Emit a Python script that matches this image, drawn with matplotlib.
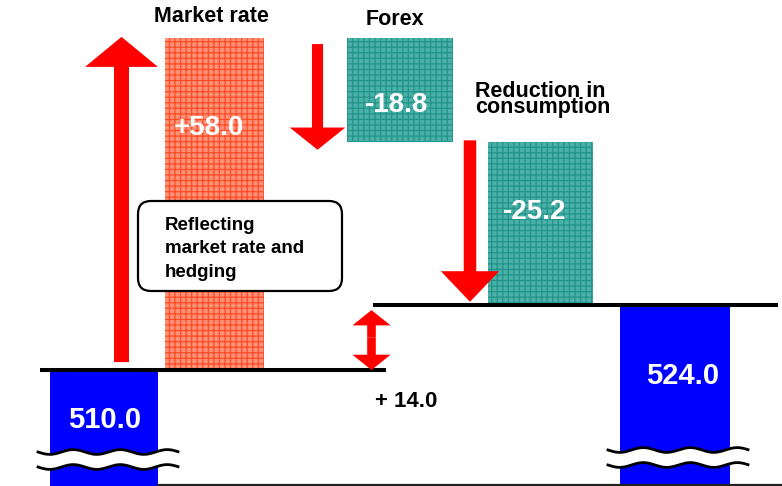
import numpy as np
import matplotlib
matplotlib.use('Agg')
import matplotlib.pyplot as plt
from matplotlib.patches import FancyArrowPatch, FancyBboxPatch
from matplotlib.transforms import Affine2D

plt.rcParams['font.family'] = ['Liberation Sans', 'DejaVu Sans']
plt.rcParams['font.weight'] = 'bold'
plt.rcParams['hatch.linewidth'] = 0.9

W, H = 782, 486

# cost bridge: start level, the three effects, end level
start_cost = 510.0
step_names = ['Market rate', 'Forex', 'Reduction in\nconsumption']
step_deltas = [58.0, -18.8, -25.2]
end_cost = 524.0
net_change = end_cost - start_cost

levels = np.cumsum([start_cost] + step_deltas)   # 510, 568, 549.2, 524

# schematic (piecewise linear) value axis: each level gets its own height
knot_vals = np.sort(levels)
knot_h = np.array([116.0, 181.0, 344.0, 448.0])
lo_slope = (knot_h[1] - knot_h[0]) / (knot_vals[1] - knot_vals[0])
hi_slope = (knot_h[-1] - knot_h[-2]) / (knot_vals[-1] - knot_vals[-2])


def fwd(v):
    v = np.asarray(v, dtype=float)
    h = np.interp(v, knot_vals, knot_h)
    h = np.where(v < knot_vals[0], knot_h[0] + (v - knot_vals[0]) * lo_slope, h)
    h = np.where(v > knot_vals[-1], knot_h[-1] + (v - knot_vals[-1]) * hi_slope, h)
    return h


def inv(h):
    h = np.asarray(h, dtype=float)
    v = np.interp(h, knot_h, knot_vals)
    v = np.where(h < knot_h[0], knot_vals[0] + (h - knot_h[0]) / lo_slope, v)
    v = np.where(h > knot_h[-1], knot_vals[-1] + (h - knot_h[-1]) / hi_slope, v)
    return v


fig = plt.figure(figsize=(W / 100, H / 100), dpi=100)
ax = fig.add_axes([0, 0, 1, 1])
ax.set_yscale('function', functions=(fwd, inv))
ax.set_xlim(0, W)
ax.set_ylim(float(inv(0)), float(inv(H)))
ax.axis('off')

# pixel frame, origin top-left, for annotations
px = Affine2D().scale(1, -1).translate(0, H)

floor = float(inv(-20))
blue = '#0000FF'

# start / end bars (cut off at the bottom)
ax.bar(104, start_cost - floor, bottom=floor, width=108, color=blue, zorder=2)
ax.bar(675, end_cost - floor, bottom=floor, width=110, color=blue, zorder=2)

# effect bars
step_x = [214.5, 400, 540.5]
step_w = [99, 106, 105]
step_face = ['#FF9274', '#4AB0A8', '#4AB0A8']
step_hatch = ['#FF4A28', '#22948A', '#22948A']
for i, d in enumerate(step_deltas):
    ax.bar(step_x[i], d, bottom=levels[i], width=step_w[i],
           facecolor=step_face[i], edgecolor=step_hatch[i], hatch='+++',
           linewidth=0, zorder=2)

# level lines
ax.hlines(start_cost, 40, 386, color='black', lw=2.9, zorder=4)
ax.hlines(end_cost, 373, 778, color='black', lw=2.9, zorder=4)


def arrow(x, y0, y1, tail, head_w, head_l):
    style = f'simple,tail_width={tail},head_width={head_w},head_length={head_l}'
    ax.add_patch(FancyArrowPatch((x, y0), (x, y1), arrowstyle=style,
                                 mutation_scale=1, color='red', lw=0,
                                 shrinkA=0, shrinkB=0, zorder=5))


arrow(121.5, start_cost + 1.7, levels[1] + 0.2, 10.8, 52.5, 21.6)
arrow(317.5, levels[1] - 1.1, levels[2] - 1.2, 8.0, 40.0, 16.0)
arrow(470.0, levels[2] + 0.3, levels[3] + 0.5, 9.0, 42.0, 22.0)
mid = (start_cost + end_cost) / 2
arrow(371.5, mid, end_cost - 1.1, 6.2, 27.5, 11.0)
arrow(371.5, mid, start_cost, 6.2, 27.5, 11.0)


# wavy axis breaks across the blue bars
def wave_break(x0, x1, y_top, y_bot):
    xs = np.linspace(x0, x1, 300)
    wob = 2.4 * np.sin(2 * np.pi * (xs - x0) / 47)
    ax.fill(np.r_[xs, xs[::-1]], np.r_[y_top + wob, (y_bot + wob)[::-1]],
            color='white', transform=px, zorder=6, lw=0)
    ax.plot(xs, y_top + wob, color='black', lw=2.0, transform=px, zorder=7)
    ax.plot(xs, y_bot + wob, color='black', lw=2.0, transform=px, zorder=7)


wave_break(38, 178, 452, 467)
wave_break(608, 748, 450, 465)

ax.plot([158, W], [484.5, 484.5], color='#222222', lw=1.6, transform=px, zorder=7)

# note box
ax.add_patch(FancyBboxPatch((138, 201), 204, 90,
                            boxstyle='round,pad=0,rounding_size=13',
                            facecolor='white', edgecolor='black', lw=1.6,
                            transform=px, zorder=6))
for line, yb in zip(['Reflecting', 'market rate and', 'hedging'], [230, 253, 277]):
    ax.text(165, yb, line, transform=px, fontsize=13.5, va='baseline',
            ha='left', zorder=8)

# headings
ax.text(211, 22, step_names[0], transform=px, fontsize=15.5, ha='center', va='baseline')
ax.text(395, 25, step_names[1], transform=px, fontsize=15.5, ha='center', va='baseline')
red_lines = step_names[2].split('\n')
ax.text(475, 97, red_lines[0], transform=px, fontsize=15.5, ha='left', va='baseline')
ax.text(475, 113, red_lines[1], transform=px, fontsize=15.5, ha='left', va='baseline')

# values
ax.text(209, 135, f'+{step_deltas[0]:.1f}', transform=px, fontsize=20,
        color='white', ha='center', va='baseline', zorder=8)
ax.text(397, 112, f'{step_deltas[1]:.1f}', transform=px, fontsize=20,
        color='white', ha='center', va='baseline', zorder=8)
ax.text(535, 219, f'{step_deltas[2]:.1f}', transform=px, fontsize=20,
        color='white', ha='center', va='baseline', zorder=8)
ax.text(105, 428, f'{start_cost:.1f}', transform=px, fontsize=21,
        color='white', ha='center', va='baseline', zorder=8)
ax.text(683, 384, f'{end_cost:.1f}', transform=px, fontsize=21,
        color='white', ha='center', va='baseline', zorder=8)
ax.text(375, 407, f'+ {net_change:.1f}', transform=px, fontsize=16,
        color='black', ha='left', va='baseline', zorder=8)

fig.savefig('out.png', dpi=100)
